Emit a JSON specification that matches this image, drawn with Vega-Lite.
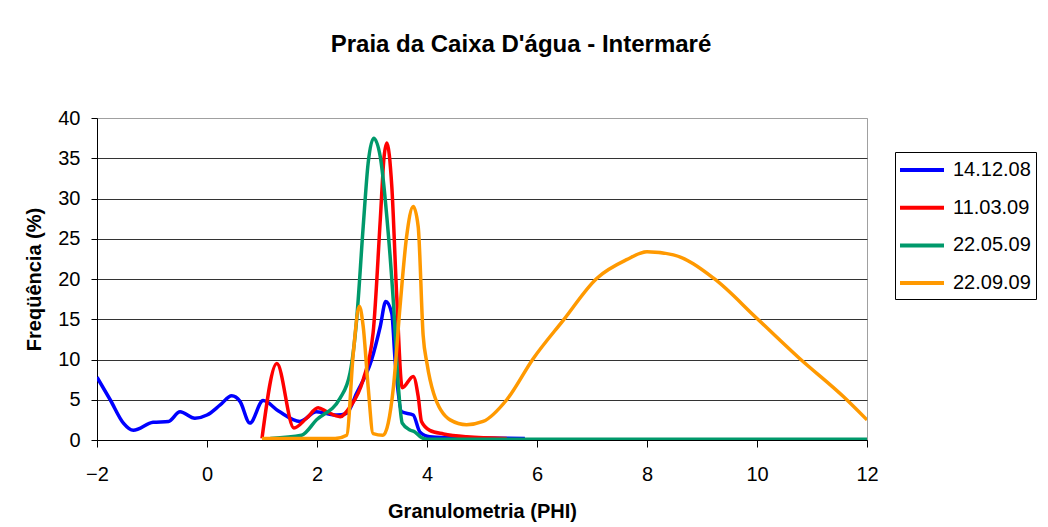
{
  "$schema": "https://vega.github.io/schema/vega-lite/v6.json",
  "width": 770,
  "height": 322,
  "autosize": "none",
  "padding": {"left": 97, "top": 118, "right": 181, "bottom": 87},
  "background": "white",
  "config": {
    "font": "Liberation Sans",
    "view": {"stroke": "#a0a0a0", "strokeWidth": 1}
  },
  "title": {
    "text": "Praia da Caixa D'água - Intermaré",
    "font": "Liberation Sans",
    "fontSize": 24,
    "fontWeight": "bold",
    "color": "#000000",
    "anchor": "middle",
    "dx": 39,
    "offset": 51
  },
  "data": {
    "values": [
      {"serie": "14.12.08", "phi": -2.0, "freq": 7.8},
      {"serie": "14.12.08", "phi": -1.76, "freq": 5.0},
      {"serie": "14.12.08", "phi": -1.52, "freq": 2.1},
      {"serie": "14.12.08", "phi": -1.34, "freq": 1.2},
      {"serie": "14.12.08", "phi": -0.98, "freq": 2.2},
      {"serie": "14.12.08", "phi": -0.7, "freq": 2.3},
      {"serie": "14.12.08", "phi": -0.49, "freq": 3.5},
      {"serie": "14.12.08", "phi": -0.22, "freq": 2.7},
      {"serie": "14.12.08", "phi": 0.0, "freq": 3.1},
      {"serie": "14.12.08", "phi": 0.24, "freq": 4.35},
      {"serie": "14.12.08", "phi": 0.45, "freq": 5.5},
      {"serie": "14.12.08", "phi": 0.6, "freq": 4.8},
      {"serie": "14.12.08", "phi": 0.78, "freq": 2.1},
      {"serie": "14.12.08", "phi": 1.02, "freq": 4.9},
      {"serie": "14.12.08", "phi": 1.3, "freq": 3.6},
      {"serie": "14.12.08", "phi": 1.69, "freq": 2.3},
      {"serie": "14.12.08", "phi": 1.99, "freq": 3.5},
      {"serie": "14.12.08", "phi": 2.36, "freq": 3.1},
      {"serie": "14.12.08", "phi": 2.54, "freq": 3.3},
      {"serie": "14.12.08", "phi": 2.72, "freq": 5.8},
      {"serie": "14.12.08", "phi": 2.99, "freq": 9.9},
      {"serie": "14.12.08", "phi": 3.15, "freq": 14.1},
      {"serie": "14.12.08", "phi": 3.25, "freq": 17.2},
      {"serie": "14.12.08", "phi": 3.36, "freq": 15.7},
      {"serie": "14.12.08", "phi": 3.42, "freq": 9.9},
      {"serie": "14.12.08", "phi": 3.54, "freq": 3.5},
      {"serie": "14.12.08", "phi": 3.75, "freq": 3.1},
      {"serie": "14.12.08", "phi": 3.87, "freq": 1.0},
      {"serie": "14.12.08", "phi": 4.05, "freq": 0.4},
      {"serie": "14.12.08", "phi": 4.3, "freq": 0.3},
      {"serie": "14.12.08", "phi": 5.78, "freq": 0.2},

      {"serie": "11.03.09", "phi": 1.0, "freq": 0.2},
      {"serie": "11.03.09", "phi": 1.27, "freq": 9.5},
      {"serie": "11.03.09", "phi": 1.58, "freq": 1.5},
      {"serie": "11.03.09", "phi": 1.81, "freq": 2.7},
      {"serie": "11.03.09", "phi": 2.02, "freq": 4.0},
      {"serie": "11.03.09", "phi": 2.18, "freq": 3.5},
      {"serie": "11.03.09", "phi": 2.42, "freq": 2.9},
      {"serie": "11.03.09", "phi": 2.6, "freq": 4.1},
      {"serie": "11.03.09", "phi": 2.84, "freq": 7.5},
      {"serie": "11.03.09", "phi": 3.02, "freq": 13.3},
      {"serie": "11.03.09", "phi": 3.15, "freq": 27.3},
      {"serie": "11.03.09", "phi": 3.22, "freq": 35.2},
      {"serie": "11.03.09", "phi": 3.27, "freq": 36.9},
      {"serie": "11.03.09", "phi": 3.36, "freq": 31.5},
      {"serie": "11.03.09", "phi": 3.45, "freq": 17.8},
      {"serie": "11.03.09", "phi": 3.55, "freq": 6.5},
      {"serie": "11.03.09", "phi": 3.75, "freq": 7.9},
      {"serie": "11.03.09", "phi": 3.84, "freq": 5.4},
      {"serie": "11.03.09", "phi": 3.9, "freq": 2.3},
      {"serie": "11.03.09", "phi": 4.05, "freq": 1.2},
      {"serie": "11.03.09", "phi": 4.3, "freq": 0.75},
      {"serie": "11.03.09", "phi": 4.72, "freq": 0.4},
      {"serie": "11.03.09", "phi": 5.45, "freq": 0.2},

      {"serie": "22.05.09", "phi": 1.15, "freq": 0.2},
      {"serie": "22.05.09", "phi": 1.72, "freq": 0.6},
      {"serie": "22.05.09", "phi": 1.99, "freq": 2.5},
      {"serie": "22.05.09", "phi": 2.42, "freq": 5.2},
      {"serie": "22.05.09", "phi": 2.6, "freq": 8.3},
      {"serie": "22.05.09", "phi": 2.72, "freq": 14.9},
      {"serie": "22.05.09", "phi": 2.84, "freq": 26.5},
      {"serie": "22.05.09", "phi": 2.93, "freq": 34.4},
      {"serie": "22.05.09", "phi": 3.03, "freq": 37.5},
      {"serie": "22.05.09", "phi": 3.15, "freq": 35.2},
      {"serie": "22.05.09", "phi": 3.27, "freq": 27.7},
      {"serie": "22.05.09", "phi": 3.39, "freq": 17.0},
      {"serie": "22.05.09", "phi": 3.48, "freq": 6.6},
      {"serie": "22.05.09", "phi": 3.55, "freq": 2.1},
      {"serie": "22.05.09", "phi": 3.69, "freq": 1.25},
      {"serie": "22.05.09", "phi": 3.78, "freq": 1.0},
      {"serie": "22.05.09", "phi": 3.9, "freq": 0.3},
      {"serie": "22.05.09", "phi": 4.0, "freq": 0.1},
      {"serie": "22.05.09", "phi": 12.0, "freq": 0.1},

      {"serie": "22.09.09", "phi": 1.0, "freq": 0.2},
      {"serie": "22.09.09", "phi": 2.33, "freq": 0.2},
      {"serie": "22.09.09", "phi": 2.54, "freq": 0.6},
      {"serie": "22.09.09", "phi": 2.66, "freq": 10.8},
      {"serie": "22.09.09", "phi": 2.77, "freq": 16.6},
      {"serie": "22.09.09", "phi": 2.84, "freq": 14.1},
      {"serie": "22.09.09", "phi": 2.93, "freq": 6.6},
      {"serie": "22.09.09", "phi": 3.02, "freq": 0.8},
      {"serie": "22.09.09", "phi": 3.2, "freq": 0.6},
      {"serie": "22.09.09", "phi": 3.39, "freq": 6.6},
      {"serie": "22.09.09", "phi": 3.51, "freq": 16.6},
      {"serie": "22.09.09", "phi": 3.63, "freq": 25.3},
      {"serie": "22.09.09", "phi": 3.75, "freq": 29.0},
      {"serie": "22.09.09", "phi": 3.84, "freq": 26.5},
      {"serie": "22.09.09", "phi": 3.93, "freq": 13.0},
      {"serie": "22.09.09", "phi": 4.0, "freq": 9.5},
      {"serie": "22.09.09", "phi": 4.12, "freq": 5.8},
      {"serie": "22.09.09", "phi": 4.42, "freq": 2.5},
      {"serie": "22.09.09", "phi": 4.72, "freq": 1.9},
      {"serie": "22.09.09", "phi": 5.02, "freq": 2.3},
      {"serie": "22.09.09", "phi": 5.45, "freq": 5.0},
      {"serie": "22.09.09", "phi": 5.93, "freq": 10.1},
      {"serie": "22.09.09", "phi": 6.48, "freq": 14.9},
      {"serie": "22.09.09", "phi": 7.09, "freq": 20.1},
      {"serie": "22.09.09", "phi": 7.63, "freq": 22.4},
      {"serie": "22.09.09", "phi": 8.0, "freq": 23.4},
      {"serie": "22.09.09", "phi": 8.48, "freq": 23.0},
      {"serie": "22.09.09", "phi": 9.21, "freq": 20.1},
      {"serie": "22.09.09", "phi": 10.0, "freq": 15.1},
      {"serie": "22.09.09", "phi": 10.78, "freq": 10.1},
      {"serie": "22.09.09", "phi": 11.57, "freq": 5.4},
      {"serie": "22.09.09", "phi": 12.0, "freq": 2.5}
    ]
  },
  "mark": {"type": "line", "interpolate": "monotone", "strokeWidth": 3.5, "clip": true},
  "encoding": {
    "x": {
      "field": "phi",
      "type": "quantitative",
      "scale": {"domain": [-2, 12], "nice": false, "zero": false},
      "axis": {
        "values": [-2, 0, 2, 4, 6, 8, 10, 12],
        "grid": false,
        "title": "Granulometria (PHI)",
        "titleFont": "Liberation Sans",
        "titleFontSize": 20,
        "titleFontWeight": "bold",
        "titleColor": "#000000",
        "titlePadding": 17,
        "labelFont": "Liberation Sans",
        "labelFontSize": 20,
        "labelColor": "#000000",
        "labelPadding": 17,
        "tickSize": 7,
        "tickColor": "#000000",
        "domainColor": "#000000",
        "labelFlush": false
      }
    },
    "y": {
      "field": "freq",
      "type": "quantitative",
      "scale": {"domain": [0, 40], "nice": false},
      "axis": {
        "values": [0, 5, 10, 15, 20, 25, 30, 35, 40],
        "grid": true,
        "gridColor": {"condition": {"test": "datum.value == 40", "value": "#a0a0a0"}, "value": "#333333"},
        "gridWidth": 1,
        "title": "Freqüência (%)",
        "titleFont": "Liberation Sans",
        "titleFontSize": 20,
        "titleFontWeight": "bold",
        "titleColor": "#000000",
        "titlePadding": 13,
        "labelFont": "Liberation Sans",
        "labelFontSize": 20,
        "labelColor": "#000000",
        "labelPadding": 11,
        "tickSize": 6,
        "tickColor": "#000000",
        "domainColor": "#000000",
        "labelFlush": false
      }
    },
    "color": {
      "field": "serie",
      "type": "nominal",
      "scale": {
        "domain": ["14.12.08", "11.03.09", "22.05.09", "22.09.09"],
        "range": ["#0000FF", "#FF0000", "#00996B", "#FF9900"]
      },
      "legend": {
        "title": null,
        "orient": "none",
        "legendX": 798,
        "legendY": 34,
        "symbolType": "M-2,0H2",
        "symbolSize": 484,
        "symbolStrokeWidth": 4,
        "symbolOffset": 9,
        "labelFont": "Liberation Sans",
        "labelFontSize": 20,
        "labelColor": "#000000",
        "labelOffset": 18,
        "rowPadding": 14.7,
        "padding": 5,
        "strokeColor": "#000000",
        "fillColor": "#ffffff"
      }
    }
  }
}
